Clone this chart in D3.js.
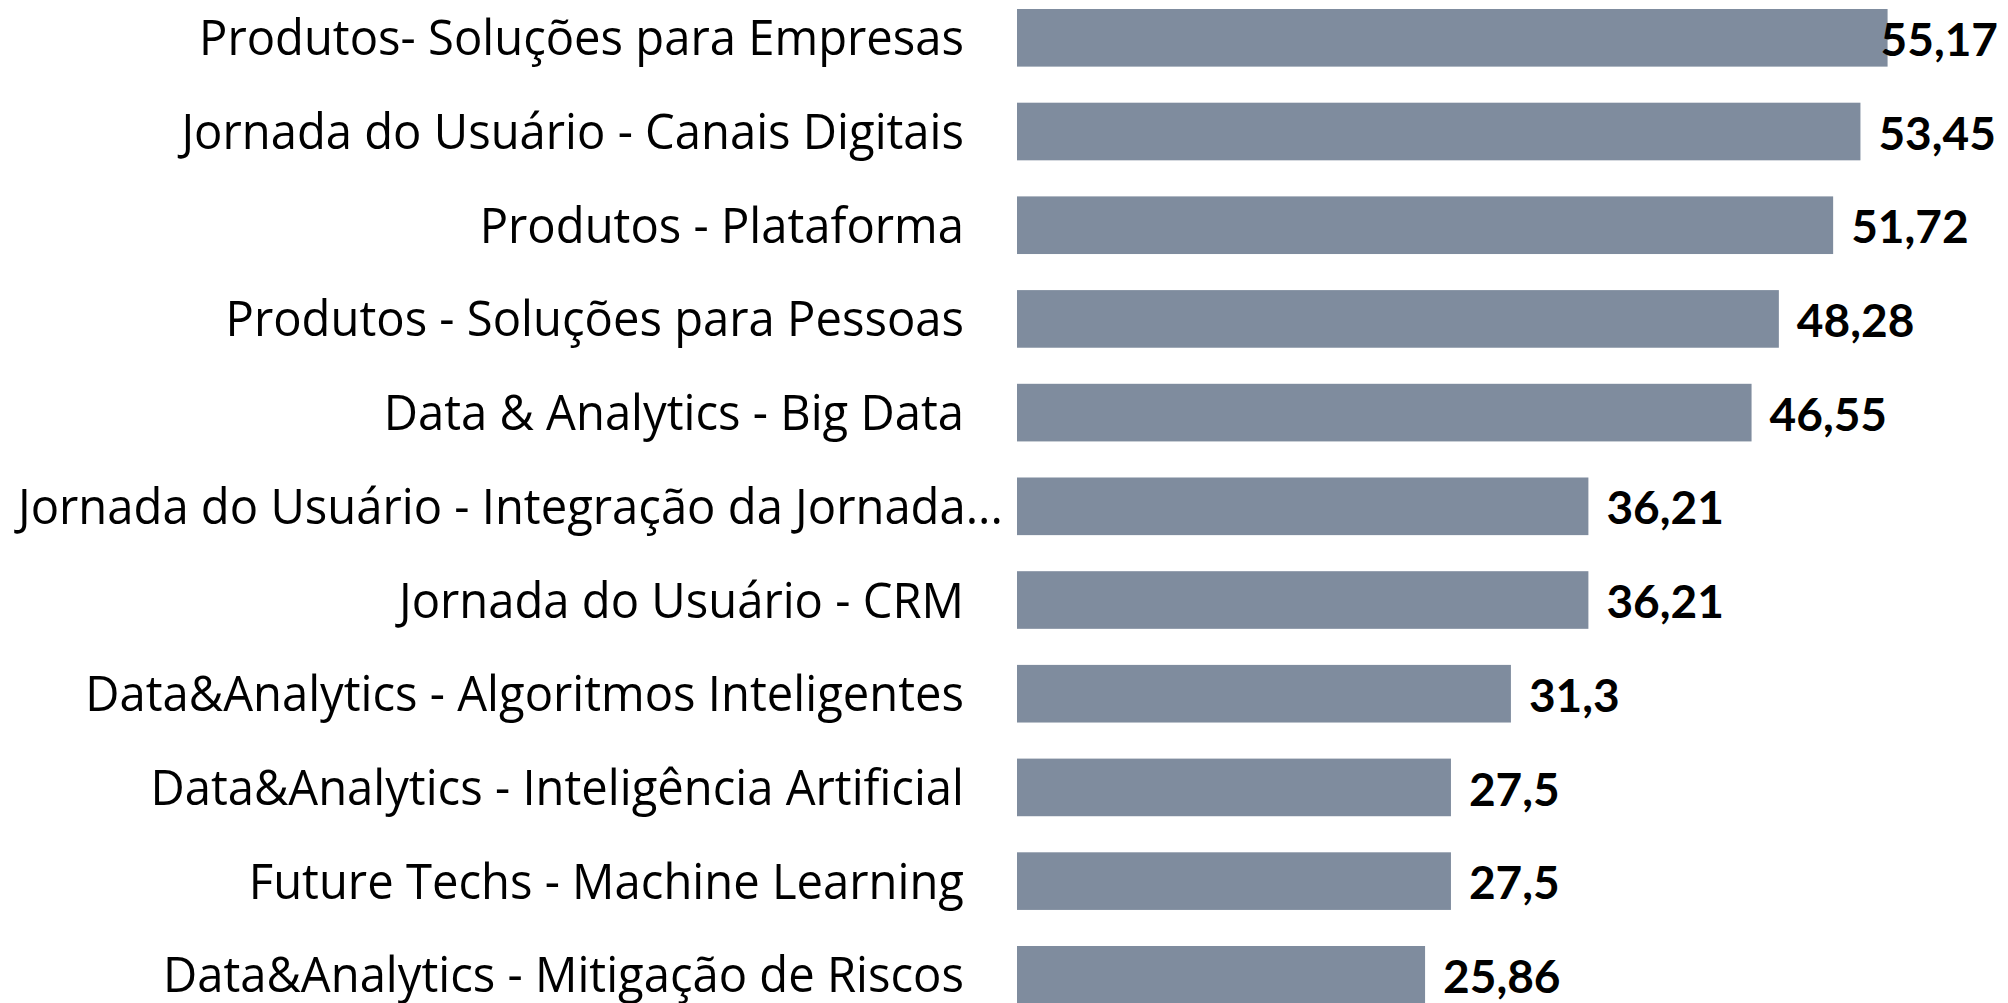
<!DOCTYPE html>
<html>
<head>
<meta charset="utf-8">
<script src="https://cdn.jsdelivr.net/npm/d3@7"></script>
<style>
  html, body { margin: 0; padding: 0; background: #fff; overflow: hidden; }
  .cat-label { font-family: "Open Sans", "Noto Sans", sans-serif; font-size: 50px; fill: #000; }
  .val-label { font-family: Lato, "Open Sans", sans-serif; font-weight: 700; font-size: 46px; fill: #000; }
</style>
</head>
<body>
<div id="chart"></div>
<script>
// chart values
var categories = [
	"Produtos- Soluções para Empresas",
	"Jornada do Usuário - Canais Digitais",
	"Produtos - Plataforma",
	"Produtos - Soluções para Pessoas",
	"Data & Analytics - Big Data",
	"Jornada do Usuário - Integração da Jornada...",
	"Jornada do Usuário - CRM",
	"Data&Analytics - Algoritmos Inteligentes",
	"Data&Analytics - Inteligência Artificial",
	"Future Techs - Machine Learning",
	"Data&Analytics - Mitigação de Riscos"
];
var values = [55.17, 53.45, 51.72, 48.28, 46.55, 36.21, 36.21, 31.3, 27.5, 27.5, 25.86];
var valueLabels = ["55,17", "53,45", "51,72", "48,28", "46,55", "36,21", "36,21", "31,3", "27,5", "27,5", "25,86"];

var cfg = {
	width: 2008,
	height: 1003,
	barLeft: 1017,
	unit: 15.78,          // px per value unit
	top: 9,
	step: 93.7,
	pad: 0.385,
	barColor: "#7f8c9e",
	labelRight: 964,
	labelMinX: 18,
	labelSqueeze: 0.944,
	valueGap: 18,
	valueMaxX: 1998
};

var svg = d3.select("#chart").append("svg")
	.attr("width", cfg.width).attr("height", cfg.height);

var xMax = 60;
var x = d3.scaleLinear().domain([0, xMax]).range([cfg.barLeft, cfg.barLeft + xMax*cfg.unit]);

var y = d3.scaleBand()
	.domain(categories)
	.range([cfg.top, cfg.top + (categories.length - cfg.pad)*cfg.step])
	.paddingInner(cfg.pad)
	.paddingOuter(0)
	.align(0);

var rows = categories.map(function(c, i){ return {cat: c, value: values[i], label: valueLabels[i]}; });

// bars
svg.selectAll("rect.bar")
	.data(rows).enter()
	.append("rect")
	.attr("class", "bar")
	.attr("x", x(0))
	.attr("y", function(d){ return y(d.cat); })
	.attr("width", function(d){ return x(d.value) - x(0); })
	.attr("height", y.bandwidth())
	.style("fill", cfg.barColor);

// category labels (squeezed horizontally, right aligned)
var catG = svg.selectAll("g.cat")
	.data(rows).enter()
	.append("g")
	.attr("class", "cat");

catG.append("text")
	.attr("class", "cat-label")
	.attr("text-anchor", "end")
	.attr("dy", "0.35em")
	.text(function(d){ return d.cat; });

catG.each(function(d){
	var g = d3.select(this);
	var t = g.select("text");
	var w = t.node().getComputedTextLength()*cfg.labelSqueeze;
	var cy = y(d.cat) + y.bandwidth()/2;
	if(cfg.labelRight - w < cfg.labelMinX){
		t.attr("text-anchor", "start");
		g.attr("transform", "translate(" + cfg.labelMinX + "," + cy + ") scale(" + cfg.labelSqueeze + ",1)");
	}else{
		g.attr("transform", "translate(" + cfg.labelRight + "," + cy + ") scale(" + cfg.labelSqueeze + ",1)");
	}
});

// value labels
svg.selectAll("text.val-label")
	.data(rows).enter()
	.append("text")
	.attr("class", "val-label")
	.attr("dy", "0.35em")
	.attr("y", function(d){ return y(d.cat) + y.bandwidth()/2 + 2; })
	.text(function(d){ return d.label; })
	.attr("x", function(d){
		var w = this.getComputedTextLength();
		var px = x(d.value) + cfg.valueGap;
		return Math.min(px, cfg.valueMaxX - w);
	});
</script>
</body>
</html>
